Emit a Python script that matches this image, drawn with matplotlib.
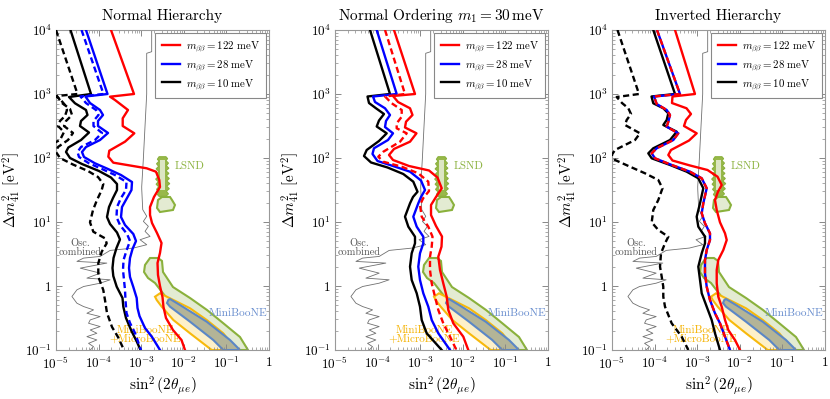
import numpy as np
import matplotlib
matplotlib.use('Agg')
import matplotlib.pyplot as plt
from matplotlib.ticker import FixedLocator, FixedFormatter, LogLocator, NullFormatter

plt.rcParams.update({
    'font.family': 'serif',
    'font.serif': ['cmr10', 'DejaVu Serif'],
    'mathtext.fontset': 'cm',
    'axes.formatter.use_mathtext': True,
    'axes.unicode_minus': False,
})

# ---------------- data (log10 of sin^2(2theta), log10 of dm41^2) ----------------
# Normal Hierarchy
nh_red_x = [-3.709, -3.169, -3.732, -3.615, -3.310, -3.434, -3.434, -3.162, -3.380, -3.749, -3.772, -3.655,
            -2.871, -2.653, -2.575, -2.559, -2.700, -2.793, -2.793, -2.746, -2.629, -2.523, -2.559, -2.617,
            -2.606, -2.559, -2.500, -2.477, -2.418, -2.254, -2.054, -1.972]
nh_red_y = [4.0, 3.0, 2.958, 2.906, 2.75, 2.620, 2.50, 2.386, 2.255, 2.114, 2.020, 1.927,
            1.839, 1.786, 1.656, 1.547, 1.391, 1.234, 1.109, 0.984, 0.828, 0.672, 0.516, 0.359,
            0.172, 0.0, -0.172, -0.328, -0.50, -0.6875, -0.844, -1.0]
nh_blue_x = [-4.296, -3.791, -4.308, -4.202, -3.967, -3.897, -4.014, -4.014, -3.779, -3.967, -4.296, -4.390,
             -4.343, -4.085, -3.779, -3.474, -3.216, -3.228, -3.333, -3.451, -3.474, -3.380, -3.185, -3.122,
             -3.204, -3.263, -3.286, -3.263, -3.185, -3.106, -3.087, -3.040, -2.911, -2.746, -2.559]
nh_blue_y = [4.0, 3.0, 2.961, 2.859, 2.75, 2.672, 2.578, 2.50, 2.391, 2.281, 2.172, 2.094,
             2.016, 1.917, 1.828, 1.734, 1.625, 1.50, 1.375, 1.234, 1.078, 0.953, 0.8125, 0.703,
             0.578, 0.4375, 0.281, 0.141, -0.016, -0.1875, -0.344, -0.469, -0.656, -0.797, -1.0]
nh_bluedash_x = [-4.401, -3.885, -4.425, -4.296, -4.061, -4.002, -4.120, -4.120, -3.920, -4.085, -4.413, -4.495,
                 -4.460, -4.225, -3.920, -3.615, -3.345, -3.357, -3.474, -3.568, -3.580, -3.498, -3.333, -3.263,
                 -3.340, -3.415, -3.427, -3.404, -3.380, -3.369, -3.345, -3.263, -3.146, -3.005]
nh_bluedash_y = [4.0, 3.0, 2.961, 2.859, 2.75, 2.672, 2.578, 2.50, 2.391, 2.281, 2.172, 2.094,
                 2.016, 1.917, 1.828, 1.734, 1.625, 1.50, 1.375, 1.234, 1.078, 0.953, 0.8125, 0.703,
                 0.5625, 0.406, 0.25, 0.094, -0.0625, -0.219, -0.422, -0.578, -0.734, -1.0]
nh_black_x = [-4.660, -4.178, -4.695, -4.554, -4.296, -4.261, -4.413, -4.437, -4.225, -4.413, -4.711, -4.765,
              -4.671, -4.390, -3.991, -3.709, -3.568, -3.568, -3.662, -3.756, -3.803, -3.732, -3.568, -3.498,
              -3.580, -3.650, -3.674, -3.655, -3.575, -3.439, -3.420, -3.357, -3.228, -3.099, -3.016]
nh_black_y = [4.0, 3.0, 2.953, 2.855, 2.75, 2.672, 2.578, 2.50, 2.398, 2.281, 2.164, 2.094,
              2.0, 1.906, 1.797, 1.695, 1.594, 1.50, 1.375, 1.234, 1.078, 0.969, 0.836, 0.727,
              0.594, 0.4375, 0.281, 0.156, -0.011, -0.1875, -0.323, -0.50, -0.703, -0.875, -1.0]
nh_blackdash_x = [-5.0, -4.495, -4.977, -4.859, -4.671, -4.624, -4.765, -4.812, -4.601, -4.718, -4.953, -5.0,
                  -4.906, -4.601, -4.249, -4.014, -3.890, -3.927, -4.038, -4.131, -4.202, -4.124, -3.850, -3.810,
                  -3.927, -4.007, -4.007, -3.890, -3.850, -3.803, -3.685, -3.545, -3.404]
nh_blackdash_y = [4.0, 3.0, 2.969, 2.859, 2.766, 2.672, 2.578, 2.50, 2.391, 2.281, 2.172, 2.094,
                  2.0, 1.898, 1.797, 1.703, 1.594, 1.50, 1.344, 1.1875, 0.995, 0.848, 0.745, 0.667,
                  0.536, 0.355, 0.145, -0.0625, -0.219, -0.422, -0.641, -0.797, -1.0]
nh_blackdash2_x = [-5.05, -4.906, -4.789, -4.742, -4.789, -4.906, -4.953, -4.812, -4.906, -5.05]
nh_blackdash2_y = [2.984, 2.922, 2.828, 2.75, 2.656, 2.578, 2.5, 2.406, 2.281, 2.234]

# Normal Ordering m1 = 30 meV
no_red_x = [-3.615, -3.122, -3.638, -3.521, -3.239, -3.181, -3.333, -3.357, -3.087, -3.239, -3.615, -3.732,
            -3.638, -3.263, -2.793, -2.594, -2.495, -2.629, -2.746, -2.746, -2.629, -2.488, -2.500, -2.575,
            -2.535, -2.458, -2.378, -2.340, -2.223, -1.988, -1.871]
no_red_y = [4.0, 3.0, 2.969, 2.875, 2.777, 2.672, 2.567, 2.477, 2.386, 2.255, 2.141, 2.047,
            1.969, 1.875, 1.805, 1.695, 1.527, 1.391, 1.266, 1.109, 0.9375, 0.773, 0.614, 0.458,
            0.25, 0.042, -0.167, -0.375, -0.583, -0.792, -1.0]
no_reddash_x = [-3.826, -3.357, -3.826, -3.669, -3.434, -3.434, -3.552, -3.552, -3.317, -3.474, -3.866, -3.984,
                -3.866, -3.434, -3.045, -2.810, -2.793, -2.927, -3.005, -2.965, -2.810, -2.711, -2.730, -2.770,
                -2.770, -2.730, -2.653, -2.575, -2.458, -2.300, -2.150]
no_reddash_y = [4.0, 3.0, 2.961, 2.855, 2.75, 2.645, 2.542, 2.464, 2.386, 2.255, 2.098, 2.020,
                1.942, 1.864, 1.761, 1.630, 1.484, 1.375, 1.266, 1.083, 0.927, 0.770, 0.614, 0.458,
                0.25, 0.042, -0.167, -0.375, -0.583, -0.792, -1.0]
no_blue_x = [-4.021, -3.552, -4.108, -4.061, -3.826, -3.709, -3.803, -3.826, -3.638, -3.756, -4.085, -4.120,
             -4.002, -3.638, -3.239, -2.981, -2.887, -2.981, -3.045, -3.162, -3.082, -2.927, -2.927, -3.005,
             -3.045, -3.005, -2.927, -2.810, -2.730, -2.575, -2.300]
no_blue_y = [4.0, 3.0, 2.961, 2.875, 2.777, 2.672, 2.578, 2.484, 2.386, 2.281, 2.152, 2.063,
             1.953, 1.875, 1.786, 1.648, 1.50, 1.391, 1.292, 1.083, 0.927, 0.770, 0.667, 0.511,
             0.302, 0.094, -0.114, -0.323, -0.531, -0.739, -1.0]
no_black_x = [-4.178, -3.709, -4.237, -4.202, -4.038, -3.850, -3.967, -4.021, -3.786, -3.967, -4.256, -4.319,
              -4.155, -3.768, -3.397, -3.162, -3.063, -3.169, -3.239, -3.357, -3.279, -3.122, -3.122, -3.200,
              -3.239, -3.200, -3.082, -3.005, -2.965, -2.847, -2.495]
no_black_y = [4.0, 3.0, 2.961, 2.859, 2.777, 2.6875, 2.586, 2.492, 2.386, 2.266, 2.125, 2.031,
              1.930, 1.852, 1.75, 1.630, 1.473, 1.391, 1.292, 1.083, 0.927, 0.770, 0.667, 0.511,
              0.302, 0.094, -0.114, -0.323, -0.531, -0.739, -1.0]

# Inverted Hierarchy
ih_red_x = [-3.521, -3.052, -3.580, -3.592, -3.251, -3.146, -3.263, -3.310, -3.012, -3.192, -3.615, -3.678,
            -3.580, -3.169, -2.758, -2.523, -2.425, -2.512, -2.582, -2.542, -2.465, -2.347, -2.307, -2.387,
            -2.505, -2.542, -2.542, -2.505, -2.425, -2.347, -2.270, -2.113, -1.995]
ih_red_y = [4.0, 3.0, 2.961, 2.859, 2.777, 2.6875, 2.594, 2.50, 2.386, 2.273, 2.125, 2.047,
            1.961, 1.883, 1.8125, 1.708, 1.578, 1.473, 1.344, 1.1875, 0.995, 0.823, 0.719, 0.5625,
            0.406, 0.25, 0.042, -0.167, -0.323, -0.531, -0.6875, -0.844, -1.0]
ih_blue_x = [-3.944, -3.404, -4.014, -3.951, -3.716, -3.638, -3.678, -3.716, -3.444, -3.561, -3.951, -4.068,
             -3.991, -3.599, -3.169, -2.894, -2.777, -2.857, -2.894, -2.817, -2.700, -2.700, -2.777, -2.817,
             -2.817, -2.777, -2.700, -2.582, -2.465, -2.347, -2.230]
ih_blue_y = [4.0, 3.0, 2.961, 2.844, 2.75, 2.672, 2.567, 2.489, 2.386, 2.281, 2.152, 2.073,
             1.995, 1.891, 1.786, 1.683, 1.527, 1.292, 1.136, 0.980, 0.823, 0.719, 0.5625, 0.406,
             0.198, -0.011, -0.219, -0.427, -0.583, -0.792, -1.0]
ih_black_x = [-4.031, -3.521, -4.073, -4.031, -3.796, -3.678, -3.716, -3.796, -3.481, -3.638, -4.031, -4.148,
              -4.068, -3.638, -3.246, -2.974, -2.857, -2.934, -3.012, -2.974, -2.817, -2.817, -2.894, -2.974,
              -2.934, -2.894, -2.777, -2.660, -2.582, -2.465]
ih_black_y = [4.0, 3.0, 2.961, 2.855, 2.777, 2.698, 2.594, 2.516, 2.411, 2.281, 2.152, 2.073,
              1.995, 1.891, 1.786, 1.683, 1.527, 1.292, 1.083, 0.927, 0.770, 0.667, 0.511, 0.302,
              0.094, -0.114, -0.323, -0.531, -0.739, -1.0]
ih_blackdash_x = [-4.871, -4.366, -4.890, -4.765, -4.617, -4.554, -4.655, -4.695, -4.343, -4.460, -4.930, -5.007,
                  -4.930, -4.577, -4.225, -3.913, -3.815, -3.913, -4.031, -4.068, -3.913, -3.678, -3.756, -3.850,
                  -3.873, -3.833, -3.796, -3.796, -3.756, -3.599, -3.364, -3.209]
ih_blackdash_y = [4.0, 3.0, 2.953, 2.859, 2.777, 2.6875, 2.594, 2.516, 2.386, 2.281, 2.125, 2.047,
                  1.969, 1.864, 1.761, 1.656, 1.527, 1.344, 1.1875, 0.995, 0.875, 0.770, 0.667, 0.511,
                  0.302, 0.145, -0.011, -0.167, -0.323, -0.583, -0.792, -1.0]

# Oscillation combined limit (grey)
osc_x = [-2.754, -2.754, -2.871, -2.871, -2.911, -2.951, -2.988, -2.987, -2.964, -2.870, -2.949, -2.832,
         -2.910, -2.793, -3.027, -2.870, -3.183, -3.729, -3.963, -4.353, -4.509, -3.807, -4.431, -3.963,
         -4.275, -3.729, -3.963, -4.353, -4.509, -4.626, -4.509, -4.353, -4.119, -4.275, -3.963, -4.197,
         -4.236, -3.963, -4.197, -4.041, -4.275, -4.041, -4.236, -4.119, -4.197]
osc_y = [4.0, 3.661, 3.636, 3.0, 2.489, 1.969, 1.552, 1.507, 1.193, 1.089, 1.010, 0.932,
         0.854, 0.775, 0.723, 0.645, 0.593, 0.556, 0.462, 0.436, 0.384, 0.358, 0.279, 0.201,
         0.123, 0.097, 0.044, -0.008, -0.060, -0.164, -0.269, -0.321, -0.373, -0.426, -0.478, -0.530,
         -0.582, -0.634, -0.687, -0.739, -0.791, -0.843, -0.896, -0.948, -1.0]

# LSND regions
lsnd_top_x = [-2.58, -2.62, -2.58, -2.64, -2.59, -2.65, -2.58, -2.64, -2.60, -2.66, -2.60, -2.65, -2.59, -2.64,
              -2.58, -2.62, -2.58, -2.42, -2.36, -2.41, -2.34, -2.40, -2.33, -2.40, -2.34, -2.41, -2.35, -2.42,
              -2.35, -2.41, -2.36, -2.42, -2.38, -2.42]
lsnd_top_y = [2.02, 1.98, 1.95, 1.91, 1.87, 1.83, 1.79, 1.75, 1.71, 1.67, 1.63, 1.59, 1.55, 1.51,
              1.47, 1.43, 1.40, 1.40, 1.44, 1.48, 1.52, 1.56, 1.60, 1.64, 1.68, 1.72, 1.76, 1.80,
              1.84, 1.88, 1.92, 1.96, 1.99, 2.02]
lsnd_core_x = [-2.55, -2.55, -2.45, -2.45]
lsnd_core_y = [1.97, 1.50, 1.50, 1.97]
lsnd_isl_x = [-2.512, -2.324, -2.277, -2.207, -2.254, -2.559, -2.629, -2.606]
lsnd_isl_y = [1.391, 1.391, 1.344, 1.266, 1.1875, 1.156, 1.219, 1.344]
lsnd_band_x = [-2.911, -2.793, -2.606, -2.512, -2.488, -2.254, -1.854, -1.455, -1.080, -0.681, -0.493,
               -1.033, -1.620, -2.089, -2.441, -2.676, -2.840, -2.934]
lsnd_band_y = [0.328, 0.4375, 0.4375, 0.391, 0.219, -0.016, -0.1875, -0.375, -0.578, -0.797, -1.0,
               -1.0, -0.656, -0.375, -0.156, 0.047, 0.125, 0.219]
mbmicro_x = [-2.676, -2.559, -2.324, -1.854, -1.462, -1.073, -0.758, -1.345, -1.854, -2.246, -2.519, -2.636]
mbmicro_y = [-0.167, -0.114, -0.192, -0.348, -0.531, -0.739, -1.0, -1.0, -0.739, -0.531, -0.323, -0.219]
mb_x = [-2.364, -2.324, -2.089, -1.462, -0.915, -0.681, -1.073, -1.308, -1.854, -2.324, -2.394]
mb_y = [-0.219, -0.203, -0.297, -0.558, -0.844, -1.0, -1.0, -0.844, -0.558, -0.323, -0.266]

titles = ['Normal Hierarchy', r'Normal Ordering $m_1 = 30\,\mathrm{meV}$', 'Inverted Hierarchy']
legend_labels = [r'$m_{\beta\beta} = 122\ \mathrm{meV}$', r'$m_{\beta\beta} = 28\ \mathrm{meV}$',
                 r'$m_{\beta\beta} = 10\ \mathrm{meV}$']
xtick_labels = [r'$10^{-5}$', r'$10^{-4}$', r'$10^{-3}$', r'$10^{-2}$', r'$10^{-1}$', r'$1$']
ytick_labels = [r'$10^{-1}$', r'$1$', r'$10^{1}$', r'$10^{2}$', r'$10^{3}$', r'$10^{4}$']

# ---------------- styling ----------------
RED, BLUE, BLACK = '#ff0000', '#0000ff', '#000000'
GREEN_E, GREEN_F = '#8ab13c', '#e3ebd2'
ORANGE_E, ORANGE_F = '#f7b600', '#fdf0c6'
MB_E, MB_F = '#5b87c6', '#b3b497'
GREY = '#707070'
LW = 1.7
DASH = (0, (2.6, 1.5))

W, H = 830, 399
fig = plt.figure(figsize=(W / 100, H / 100), dpi=100)
lefts = [56, 335, 612]
aw, ab, ah = 213, 49, 320


def P(v):
    return 10 ** np.asarray(v, dtype=float)


def curve(ax, xs, ys, color, ls='-', z=5):
    ax.plot(P(xs), P(ys), color=color, lw=LW, ls=ls, zorder=z, solid_joinstyle='round')


panels = [
    [(nh_blackdash_x, nh_blackdash_y, BLACK, DASH), (nh_blackdash2_x, nh_blackdash2_y, BLACK, DASH),
     (nh_black_x, nh_black_y, BLACK, '-'), (nh_bluedash_x, nh_bluedash_y, BLUE, DASH),
     (nh_blue_x, nh_blue_y, BLUE, '-'), (nh_red_x, nh_red_y, RED, '-')],
    [(no_black_x, no_black_y, BLACK, '-'), (no_blue_x, no_blue_y, BLUE, '-'),
     (no_reddash_x, no_reddash_y, RED, DASH), (no_red_x, no_red_y, RED, '-')],
    [(ih_blackdash_x, ih_blackdash_y, BLACK, DASH), (ih_black_x, ih_black_y, BLACK, '-'),
     (ih_blue_x, ih_blue_y, BLUE, '-'), (ih_blue_x, ih_blue_y, RED, DASH),
     (ih_red_x, ih_red_y, RED, '-')],
]

for i in range(3):
    ax = fig.add_axes([lefts[i] / W, ab / H, aw / W, ah / H])
    ax.set_xscale('log')
    ax.set_yscale('log')
    ax.set_xlim(1e-5, 1)
    ax.set_ylim(1e-1, 1e4)

    # experimental regions
    ax.fill(P(lsnd_band_x), P(lsnd_band_y), facecolor=GREEN_F, edgecolor=GREEN_E, lw=1.5, zorder=1)
    ax.fill(P(mbmicro_x), P(mbmicro_y), facecolor=ORANGE_F, edgecolor=ORANGE_E, lw=1.5, zorder=1.2, alpha=0.95)
    ax.fill(P(mb_x), P(mb_y), facecolor=MB_F, edgecolor=MB_E, lw=1.5, zorder=1.4)
    ax.fill(P(lsnd_top_x), P(lsnd_top_y), facecolor='#98b84a', edgecolor='#8ab13c', lw=0.8, zorder=1)
    ax.fill(P(lsnd_core_x), P(lsnd_core_y), facecolor='#dce6c3', edgecolor='none', zorder=1.1)
    ax.fill(P(lsnd_isl_x), P(lsnd_isl_y), facecolor=GREEN_F, edgecolor=GREEN_E, lw=1.5, zorder=1)
    ax.plot(P(osc_x), P(osc_y), color=GREY, lw=0.6, zorder=2)

    ax.text(10 ** -2.21, 10 ** 1.87, 'LSND', color='#8ab13c', fontsize=8, va='center', ha='left', zorder=3)
    ax.text(10 ** -0.04, 10 ** -0.42, 'MiniBooNE', color='#6a8fcf', fontsize=8.2, va='center', ha='right', zorder=3)
    ax.text(10 ** -2.9, 10 ** -0.76, 'MiniBooNE\n+MicroBooNE', color='#f5b200', fontsize=8, va='center',
            ha='center', multialignment='center', linespacing=0.95, zorder=3)
    ax.text(10 ** -4.44, 10 ** 0.6, 'Osc.\ncombined', color='#555555', fontsize=7.4, va='center',
            ha='center', multialignment='center', linespacing=0.9, zorder=3)

    for xs, ys, col, ls in panels[i]:
        curve(ax, xs, ys, col, ls)

    # legend handles
    hs = [ax.plot([], [], color=c, lw=LW)[0] for c in (RED, BLUE, BLACK)]
    leg = ax.legend(hs, legend_labels, loc='upper right', fontsize=7.8, frameon=True, fancybox=False,
                    edgecolor='#888888', framealpha=1, borderaxespad=0.25, handlelength=1.7,
                    labelspacing=0.35, borderpad=0.6, handletextpad=0.5)
    leg.get_frame().set_linewidth(0.8)
    leg.set_zorder(10)

    ax.xaxis.set_major_locator(FixedLocator([1e-5, 1e-4, 1e-3, 1e-2, 1e-1, 1]))
    ax.xaxis.set_major_formatter(FixedFormatter(xtick_labels))
    ax.yaxis.set_major_locator(FixedLocator([1e-1, 1, 1e1, 1e2, 1e3, 1e4]))
    ax.yaxis.set_major_formatter(FixedFormatter(ytick_labels))
    ax.xaxis.set_minor_locator(LogLocator(base=10, subs=np.arange(2, 10), numticks=20))
    ax.yaxis.set_minor_locator(LogLocator(base=10, subs=np.arange(2, 10), numticks=20))
    ax.xaxis.set_minor_formatter(NullFormatter())
    ax.yaxis.set_minor_formatter(NullFormatter())
    ax.tick_params(which='both', direction='in', top=True, right=True, color='#888888', labelsize=9.5)
    ax.tick_params(axis='x', which='major', pad=4)
    ax.tick_params(axis='y', which='major', pad=3)
    ax.tick_params(which='major', length=4, width=0.7)
    ax.tick_params(which='minor', length=2, width=0.5)
    for s in ax.spines.values():
        s.set_color('#999999')
        s.set_linewidth(0.8)

    ax.set_title(titles[i], fontsize=11, pad=7)
    ax.set_xlabel(r'$\sin^2(2\theta_{\mu e})$', fontsize=11, labelpad=2)
    ax.set_ylabel(r'$\Delta m^2_{41}\ [\mathrm{eV}^2]$', fontsize=11, labelpad=2)

fig.savefig('out.png', dpi=100)
